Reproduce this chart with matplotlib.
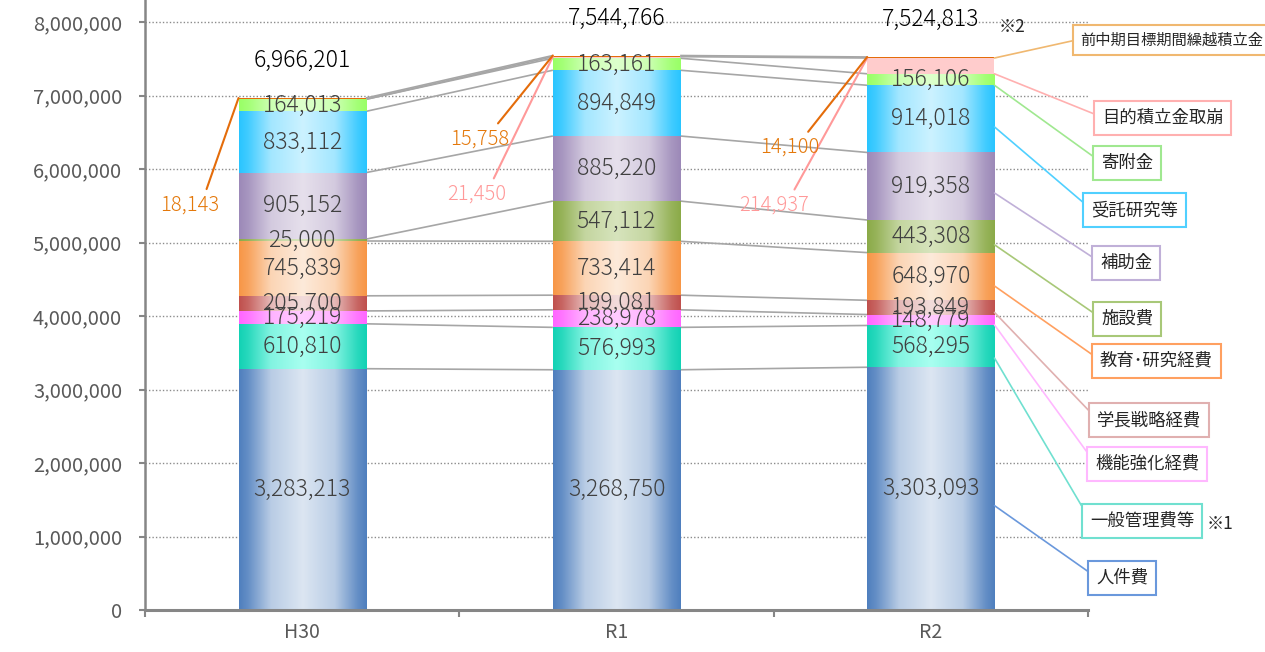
import numpy as np
import matplotlib.pyplot as plt
from matplotlib.colors import to_rgb
from matplotlib.ticker import FuncFormatter

plt.rcParams['font.family'] = ['Noto Sans CJK JP', 'DejaVu Sans']

# 年度別 支出内訳（千円）
years = ['H30', 'R1', 'R2']
series = ['人件費', '一般管理費等', '機能強化経費', '学長戦略経費', '教育･研究経費',
          '施設費', '補助金', '受託研究等', '寄附金', '目的積立金取崩',
          '前中期目標期間繰越積立金']
jinkenhi = [3283213, 3268750, 3303093]
ippan = [610810, 576993, 568295]
kinou = [175219, 238978, 148779]
gakucho = [205700, 199081, 193849]
kyouiku = [745839, 733414, 648970]
shisetsu = [25000, 547112, 443308]
hojokin = [905152, 885220, 919358]
jutaku = [833112, 894849, 914018]
kifukin = [164013, 163161, 156106]
mokuteki = [0, 21450, 214937]
zenchuki = [18143, 15758, 14100]
values = [jinkenhi, ippan, kinou, gakucho, kyouiku, shisetsu,
          hojokin, jutaku, kifukin, mokuteki, zenchuki]

# 棒の色（端の濃い色, 中央の明るい色）
dark = ['#4F7FBE', '#12D2B4', '#FF66FF', '#C0504D', '#F79646', '#8BAA48',
        '#9C89B8', '#29C5FF', '#99FF66', '#FFCCCC', '#E46C0A']
light = ['#DCE6F2', '#A8FFF0', '#FFCCFF', '#F2DCDB', '#FDEADA', '#D7E4BD',
         '#E6E0EC', '#CCF2FF', '#DDFFCC', '#FFCCCC', '#E46C0A']
# 凡例枠・引出線の色
box_ec = ['#6A98DC', '#70E0D0', '#FFB8FF', '#E0B0B0', '#FFA060', '#A8C878',
          '#C0B0D8', '#50D0FF', '#A0E890', '#FFB0B0', '#F0B870']
# 凡例ボックスの位置（左端px, 中心y px）とフォントサイズ
box_pos = [(1096, 578), (1090, 521), (1095, 464), (1097, 420), (1100, 361),
           (1101, 319), (1100, 263), (1091, 210), (1101, 163), (1102, 118),
           (1080, 40)]
box_fs = [12.5] * 10 + [11]
# 引出線の始点（R2棒のどの高さから出すか）
lead_frac = [0.43, 0.22, 0.05, 0.15, 0.3, 0.24, 0.4, 0.38, 0.0, 0.0, 0.0]
# 小さい値のラベル位置（offset points）
small_off = {(9, 1): (-55, -99), (9, 2): (-67, -106),
             (10, 0): (-35, -77), (10, 1): (-53, -60), (10, 2): (-56, -65)}
small_col = {9: '#FF9999', 10: '#E4780A'}


def make_grad(c_dark, c_light):
    t = np.linspace(0, 1, 256)
    m = np.interp(t, [0, 0.07, 0.25, 0.5, 0.75, 0.93, 1],
                  [0, 0.15, 0.75, 1, 0.75, 0.15, 0])
    d = np.array(to_rgb(c_dark))
    l = np.array(to_rgb(c_light))
    return (d[None, :] * (1 - m[:, None]) + l[None, :] * m[:, None])[None, :, :]


fig = plt.figure(figsize=(12.65, 6.52), dpi=100)
ax = fig.add_axes([145 / 1265, 42 / 652, 943 / 1265, 610 / 652])

x = np.arange(len(years))
width = 0.405
bottom = np.zeros(len(years))
bottoms = []
for i, vals in enumerate(values):
    vals = np.array(vals, dtype=float)
    bottoms.append(bottom.copy())
    bars = ax.bar(x, vals, width, bottom=bottom, color=dark[i], linewidth=0, zorder=2)
    if dark[i] != light[i]:
        grad = make_grad(dark[i], light[i])
        for b in bars:
            if b.get_height() <= 0:
                continue
            im = ax.imshow(grad, extent=[b.get_x(), b.get_x() + b.get_width(),
                                         b.get_y(), b.get_y() + b.get_height()],
                           aspect='auto', interpolation='bilinear', zorder=2.5)
            im.set_clip_path(b)
    top = bottom + vals
    # 系列線
    for j in range(len(years) - 1):
        ax.plot([x[j] + width / 2, x[j + 1] - width / 2], [top[j], top[j + 1]],
                color='#A6A6A6', lw=1.2, zorder=1, solid_capstyle='butt')
    # 値ラベル
    for j, v in enumerate(vals):
        if v <= 0:
            continue
        if i < 9:
            ax.text(x[j], bottom[j] + v / 2, f'{int(v):,}', ha='center', va='center',
                    fontsize=16.5, fontweight='light', color='#404040', zorder=5)
        else:
            ax.annotate(f'{int(v):,}', xy=(x[j] - width / 2, top[j]),
                        xytext=small_off[(i, j)], textcoords='offset points',
                        ha='center', va='center', fontsize=14.5, fontweight='light',
                        color=small_col[i],
                        arrowprops=dict(arrowstyle='-', color=dark[i] if i == 10 else '#FF9999',
                                        lw=1.5, relpos=(0.75, 1.0), shrinkA=2, shrinkB=0),
                        zorder=5)
    bottom = top

totals = bottom
for j, t in enumerate(totals):
    ax.annotate(f'{int(t):,}', xy=(x[j], t), xytext=(0, 27), textcoords='offset points',
                ha='center', va='center', fontsize=16.5, fontweight='light', color='black')
fig.text(1012 / 1265, 1 - 27 / 652, '※2', fontsize=12.5, color='#262626', ha='center', va='center')

# 凡例（R2の棒から引出線）
for i, name in enumerate(series):
    v = values[i][2]
    y0 = bottoms[i][2] + lead_frac[i] * v
    bx, by = box_pos[i]
    ax.annotate(name, xy=(x[2] + width / 2, y0), xycoords='data',
                xytext=(bx, 652 - by), textcoords='figure pixels',
                ha='left', va='center', fontsize=box_fs[i], color='#262626',
                bbox=dict(boxstyle='square,pad=0.45', fc='white', ec=box_ec[i], lw=1.5),
                arrowprops=dict(arrowstyle='-', color=box_ec[i], lw=1.2,
                                relpos=(0, 0.55), shrinkA=0, shrinkB=0),
                annotation_clip=False, zorder=6)
fig.text(1220 / 1265, 1 - 524 / 652, '※1', fontsize=12.5, color='#262626', ha='center', va='center')

ax.set_xlim(-0.5, 2.5)
ax.set_ylim(0, 8.3e6)
ax.set_yticks(np.arange(0, 8.0e6 + 1, 1e6))
ax.yaxis.set_major_formatter(FuncFormatter(lambda v, p: f'{int(v):,}'))
ax.yaxis.grid(True, linestyle=(0, (1, 1.5)), color='#8C8C8C', lw=1)
ax.set_axisbelow(True)
ax.set_xticks(x)
ax.set_xticklabels(years)
ax.set_xticks([-0.5, 0.5, 1.5, 2.5], minor=True)
ax.tick_params(axis='x', which='major', length=0, pad=9, labelsize=14, labelcolor='#595959')
ax.tick_params(axis='x', which='minor', length=5, width=1.5, color='#868686')
ax.tick_params(axis='y', length=4.5, width=1.5, color='#868686', pad=12,
               labelsize=14.5, labelcolor='#595959')
for s in ['top', 'right']:
    ax.spines[s].set_visible(False)
ax.spines['left'].set_color('#868686')
ax.spines['left'].set_linewidth(1.8)
ax.spines['bottom'].set_color('#868686')
ax.spines['bottom'].set_linewidth(2.2)

fig.savefig('out.png', dpi=100)
